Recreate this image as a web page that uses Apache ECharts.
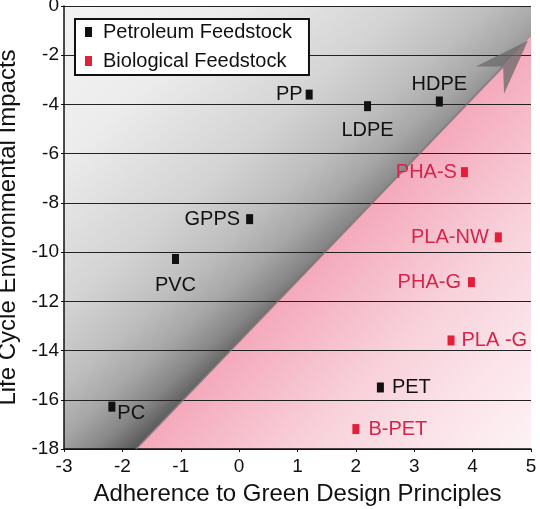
<!DOCTYPE html>
<html><head><meta charset="utf-8">
<script src="https://cdn.jsdelivr.net/npm/echarts@6/dist/echarts.min.js"></script>
<style>html,body{margin:0;padding:0;background:#fff}#c{width:540px;height:509px}</style>
</head><body><div id="c"></div>
<script>
// ---- data ----
const xTicks = [-3, -2, -1, 0, 1, 2, 3, 4, 5];
const yTicks = [-18, -16, -14, -12, -10, -8, -6, -4, -2, 0];

const petroNames = ['PP', 'LDPE', 'HDPE', 'GPPS', 'PVC', 'PET', 'PC'];
const petroX = [1.2, 2.2, 3.43, 0.18, -1.09, 2.42, -2.18];
const petroY = [-3.6, -4.07, -3.88, -8.66, -10.28, -15.5, -16.28];

const bioNames = ['PHA-S', 'PLA-NW', 'PHA-G', 'PLA -G', 'B-PET'];
const bioX = [3.86, 4.44, 3.98, 3.63, 2.0];
const bioY = [-6.75, -9.4, -11.22, -13.59, -17.19];

const boundaryLine = [[-1.77, -18], [5, -1.25]];
const arrowLine = [[-1.77, -18], [4.95, -1.4]];

// ---- styles ----
const FONT = 'Liberation Sans, Arial, Helvetica, sans-serif';
const labelPlace = {
  'PP': {position: 'left', distance: 3},
  'LDPE': {position: 'bottom', distance: 9},
  'HDPE': {position: 'top', distance: 2},
  'GPPS': {position: 'left', distance: 6},
  'PVC': {position: 'bottom', distance: 11},
  'PET': {position: 'right', distance: 8},
  'PC': {position: 'right', distance: 2, offset: [0, 7]},
  'PHA-S': {position: 'left', distance: 4},
  'PLA-NW': {position: 'left', distance: 6},
  'PHA-G': {position: 'left', distance: 7},
  'PLA -G': {position: 'right', distance: 7},
  'B-PET': {position: 'right', distance: 9}
};
const grayStops = [
  {offset: 0, color: '#f3f3f3'}, {offset: 0.3, color: '#ececec'},
  {offset: 0.6, color: '#d3d3d3'}, {offset: 0.75, color: '#bebebe'},
  {offset: 0.85, color: '#a6a6a6'}, {offset: 0.93, color: '#868686'},
  {offset: 1, color: '#575757'}
];
const pinkStops = [
  {offset: 0, color: '#f4a9bb'}, {offset: 0.4, color: '#f8d0da'},
  {offset: 0.7, color: '#fbe3e9'}, {offset: 1, color: '#fdf2f4'}
];

function points(names, xs, ys) {
  return names.map((n, i) => ({name: n, value: [xs[i], ys[i]], label: labelPlace[n]}));
}

const xMin = xTicks[0], xMax = xTicks[xTicks.length - 1];
const yMin = yTicks[0], yMax = yTicks[yTicks.length - 1];

function unitDir(a, b) {
  const dx = b[0] - a[0], dy = b[1] - a[1], L = Math.hypot(dx, dy);
  return [dx / L, dy / L];
}

const chart = echarts.init(document.getElementById('c'), null, {renderer: 'canvas'});
chart.setOption({
  animation: false,
  textStyle: {fontFamily: FONT},
  grid: {left: 64, right: 9, top: 6, bottom: 60, containLabel: false, outerBoundsMode: 'none'},
  legend: {
    data: ['Petroleum Feedstock', 'Biological Feedstock'],
    orient: 'vertical', left: 75, top: 19,
    backgroundColor: '#fff', borderColor: '#111', borderWidth: 2,
    padding: [3, 17, 4, 10], itemGap: 9,
    icon: 'rect', itemWidth: 7, itemHeight: 10,
    textStyle: {fontFamily: FONT, fontSize: 20, color: '#111', padding: [0, 0, 0, 6]}
  },
  xAxis: {
    type: 'value', min: xMin, max: xMax, interval: xTicks[1] - xTicks[0],
    name: 'Adherence to Green Design Principles', nameLocation: 'middle', nameGap: 33,
    nameTextStyle: {fontFamily: FONT, fontSize: 24, color: '#111'},
    axisLine: {onZero: false, lineStyle: {color: '#111', width: 1.5}},
    axisTick: {show: true, length: 3, lineStyle: {color: '#111'}},
    axisLabel: {fontFamily: FONT, fontSize: 19, color: '#111', margin: 8},
    splitLine: {show: false}
  },
  yAxis: {
    type: 'value', min: yMin, max: yMax, interval: yTicks[1] - yTicks[0],
    name: 'Life Cycle Environmental Impacts', nameLocation: 'middle', nameGap: 38,
    nameTextStyle: {fontFamily: FONT, fontSize: 24, color: '#111'},
    axisLine: {show: true, onZero: false, lineStyle: {color: '#111', width: 1.5}},
    axisTick: {show: true, length: 3, lineStyle: {color: '#111'}},
    axisLabel: {fontFamily: FONT, fontSize: 19, color: '#111', margin: 5},
    splitLine: {show: true, lineStyle: {color: '#222', width: 1.2}}
  },
  series: [
    {
      type: 'custom', name: 'bg', z: -1, silent: true, clip: false,
      data: [[0, 0]],
      renderItem: function (params, api) {
        const tl = api.coord([xMin, yMax]), tr = api.coord([xMax, yMax]);
        const br = api.coord([xMax, yMin]), bl = api.coord([xMin, yMin]);
        const a = api.coord(boundaryLine[0]), b = api.coord(boundaryLine[1]);
        const u = unitDir(a, b);
        const foot = p => {
          const t = (p[0] - a[0]) * u[0] + (p[1] - a[1]) * u[1];
          return [a[0] + t * u[0], a[1] + t * u[1]];
        };
        // gray: value 1 at the lower end of the boundary, 0.88 at the upper end
        const ax = a[0] - tl[0], ay = a[1] - tl[1], bx = b[0] - tl[0], by = b[1] - tl[1];
        const va = 1, vb = 0.88, det = ax * by - ay * bx;
        const dx = (va * by - vb * ay) / det, dy = (ax * vb - bx * va) / det;
        const d2 = dx * dx + dy * dy;
        const g1 = [tl[0] + dx / d2, tl[1] + dy / d2];
        const f1 = foot(br);
        return {
          type: 'group', children: [
            {type: 'polygon', shape: {points: [tl, tr, b, a, bl]},
              style: {fill: new echarts.graphic.LinearGradient(tl[0], tl[1], g1[0], g1[1], grayStops, true)}},
            {type: 'polygon', shape: {points: [a, b, br]},
              style: {fill: new echarts.graphic.LinearGradient(f1[0], f1[1], br[0], br[1], pinkStops, true)}}
          ]
        };
      }
    },
    {
      type: 'custom', name: 'arrow', z: 3, silent: true, clip: false,
      data: [[0, 0]],
      renderItem: function (params, api) {
        const a = api.coord(arrowLine[0]), t = api.coord(arrowLine[1]);
        const u = unitDir(a, t), n = [-u[1], u[0]];
        const headLen = 55, halfW = 19.5, notch = 36;
        const p1 = [t[0] - u[0] * headLen + n[0] * halfW, t[1] - u[1] * headLen + n[1] * halfW];
        const p2 = [t[0] - u[0] * notch, t[1] - u[1] * notch];
        const p3 = [t[0] - u[0] * headLen - n[0] * halfW, t[1] - u[1] * headLen - n[1] * halfW];
        return {
          type: 'group', children: [
            {type: 'line', shape: {x1: a[0], y1: a[1], x2: p2[0], y2: p2[1]},
              style: {stroke: 'rgba(110,110,110,0.75)', lineWidth: 2}},
            {type: 'polygon', shape: {points: [t, p1, p2, p3]},
              style: {fill: 'rgba(105,105,105,0.75)'}}
          ]
        };
      }
    },
    {
      type: 'scatter', name: 'Petroleum Feedstock', z: 5,
      symbol: 'rect', symbolSize: [7, 10],
      itemStyle: {color: '#111', opacity: 1},
      label: {show: true, formatter: '{b}', fontFamily: FONT, fontSize: 20, color: '#111'},
      data: points(petroNames, petroX, petroY)
    },
    {
      type: 'scatter', name: 'Biological Feedstock', z: 5,
      symbol: 'rect', symbolSize: [7, 10],
      itemStyle: {color: '#e3203a', opacity: 1},
      label: {show: true, formatter: '{b}', fontFamily: FONT, fontSize: 20, color: '#d3264a'},
      data: points(bioNames, bioX, bioY)
    }
  ]
});
</script>
</body></html>
